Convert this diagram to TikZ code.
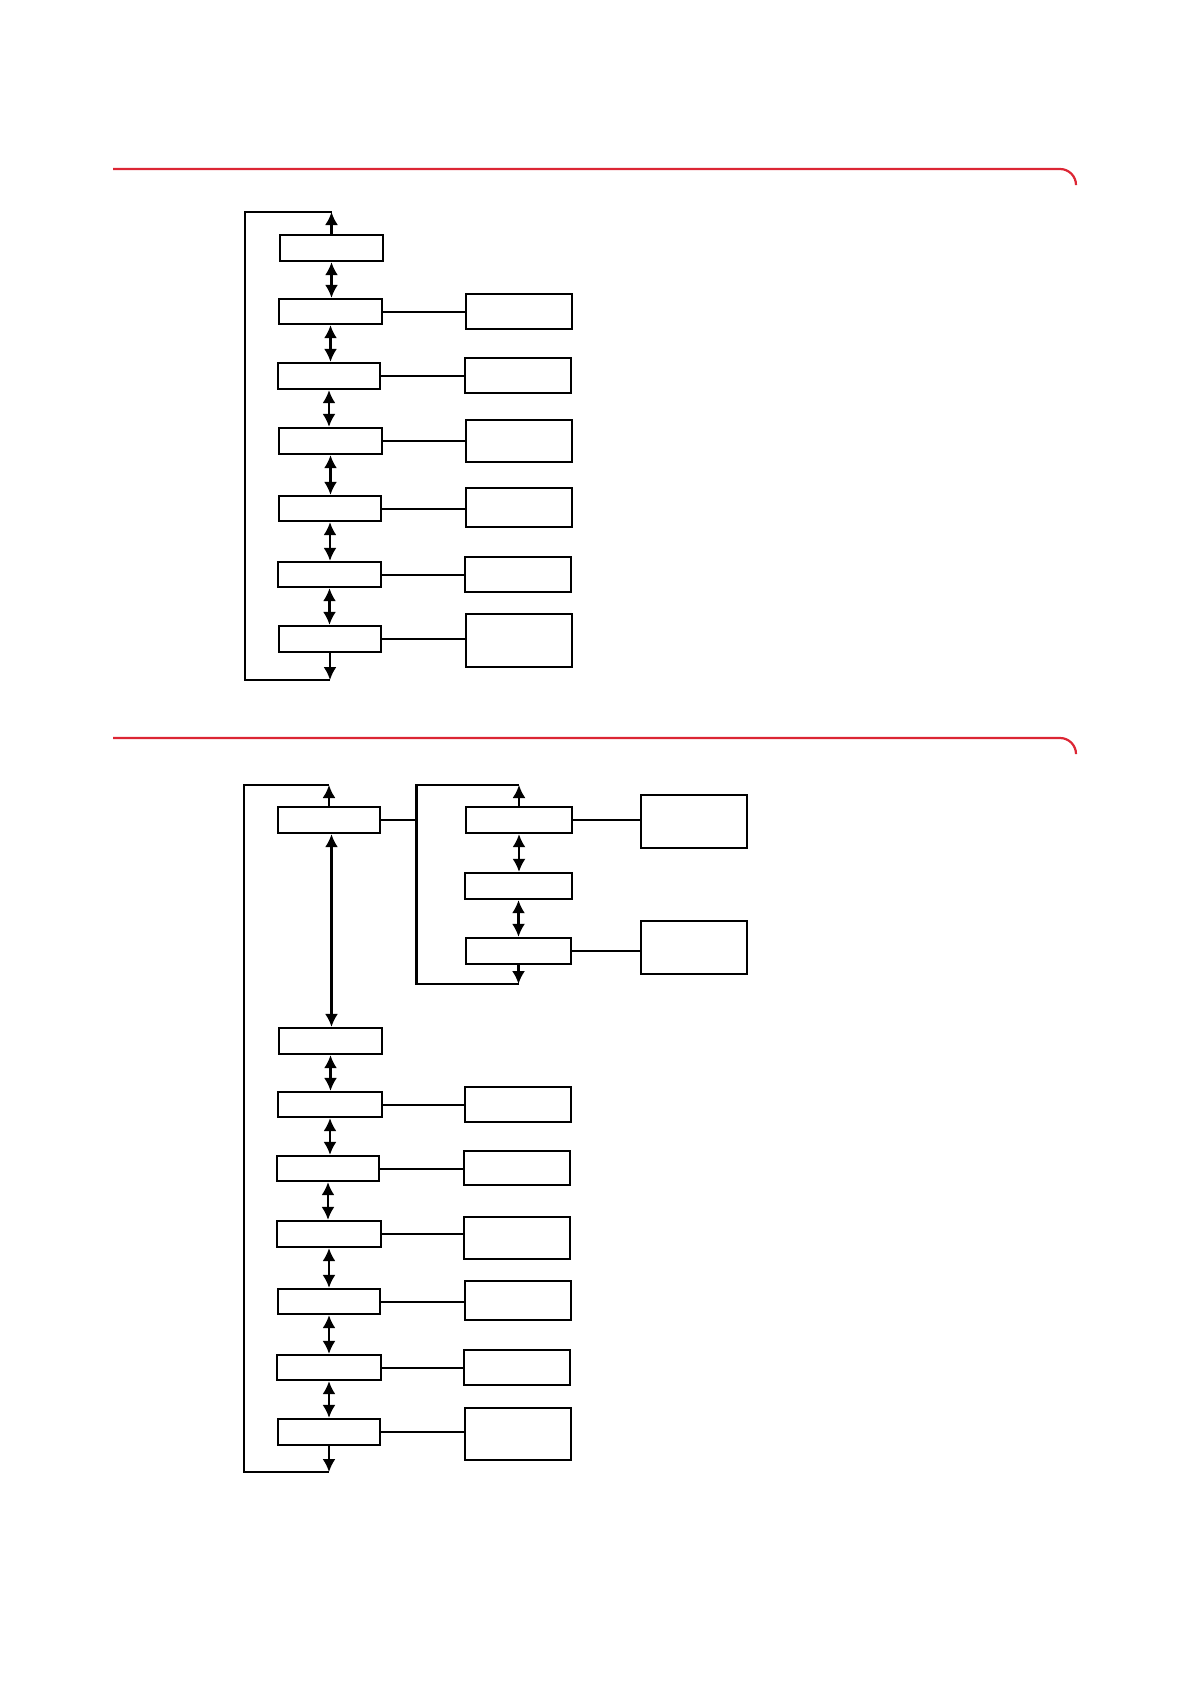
\documentclass[tikz,border=0pt]{standalone}
\usetikzlibrary{arrows.meta}
\definecolor{accent}{RGB}{220,38,52}
\tikzset{
 box/.style={draw, line width=2.3pt, inner sep=0pt, fill=white},
 link/.style={line width=2pt},
 tipshape/.style={},
 dbl/.style={line width=2.1pt, {Latex[length=13pt,width=13pt]}-{Latex[length=13pt,width=13pt]}},
 one/.style={line width=2.1pt, -{Latex[length=13pt,width=13pt]}},
 loopline/.style={line width=2.1pt},
 rulebar/.style={draw=accent, line width=2.2pt, rounded corners=16pt}
}
\newcommand\bx[5]{\node[box, minimum width={#4-#2}, minimum height={#5-#3}] (#1) at ({(#2+#4)/2},{(#3+#5)/2}) {};}
\begin{document}
\begin{tikzpicture}[x=1pt,y=-1pt]
\useasboundingbox (0,0) rectangle (1190,1684);
% red rules
\coordinate (ra1) at (113,169); \coordinate (ra2) at (1076,169); \coordinate (ra3) at (1076,184);
\draw[rulebar] (ra1) -- (ra2) -- (ra3);
\coordinate (rb1) at (113,738); \coordinate (rb2) at (1076,738); \coordinate (rb3) at (1076,753);
\draw[rulebar] (rb1) -- (rb2) -- (rb3);
% ---------- top diagram ----------
\bx{a1}{280}{235}{383}{261}
\bx{a2}{279}{299}{382}{324}
\bx{a3}{278}{363}{380}{389}
\bx{a4}{279}{428}{382}{454}
\bx{a5}{279}{496}{381}{521}
\bx{a6}{278}{562}{381}{587}
\bx{a7}{279}{626}{381}{652}
\bx{r2}{466}{294}{572}{329}
\bx{r3}{465}{358}{571}{393}
\bx{r4}{466}{420}{572}{462}
\bx{r5}{466}{488}{572}{527}
\bx{r6}{465}{557}{571}{592}
\bx{r7}{466}{614}{572}{667}
\coordinate (ty1) at (0,212); \coordinate (by1) at (0,680);
\coordinate (lx1) at (245,0);
\coordinate (lt1) at (a1.north |- ty1);
\coordinate (lb1) at (a7.south |- by1);
\coordinate (ltl1) at (lx1 |- ty1);
\coordinate (lbl1) at (lx1 |- by1);
\draw[loopline] (lt1) -- (ltl1) -- (lbl1) -- (lb1);
\draw[one] (a1.north) -- (lt1);
\draw[one] (a7.south) -- (lb1);
\foreach \u/\v in {a1/a2,a2/a3,a3/a4,a4/a5,a5/a6,a6/a7}
  \draw[dbl] (\u.south) -- (\u.south |- \v.north);
\foreach \i in {2,...,7}
  \draw[link] (a\i.east) -- (a\i.east -| r\i.west);
% ---------- bottom diagram ----------
\bx{b0}{278}{807}{380}{833}
\bx{c1}{466}{807}{572}{833}
\bx{c2}{465}{873}{572}{899}
\bx{c3}{466}{938}{571}{964}
\bx{d1}{641}{795}{747}{848}
\bx{d2}{641}{921}{747}{974}
\bx{e0}{279}{1028}{382}{1054}
\bx{e1}{278}{1092}{382}{1117}
\bx{e2}{277}{1156}{379}{1181}
\bx{e3}{277}{1221}{381}{1247}
\bx{e4}{278}{1289}{380}{1314}
\bx{e5}{277}{1355}{381}{1380}
\bx{e6}{278}{1419}{380}{1445}
\bx{f1}{465}{1087}{571}{1122}
\bx{f2}{464}{1151}{570}{1185}
\bx{f3}{464}{1217}{570}{1259}
\bx{f4}{465}{1281}{571}{1320}
\bx{f5}{464}{1350}{570}{1385}
\bx{f6}{465}{1408}{571}{1460}
% outer loop
\coordinate (ty2) at (0,785); \coordinate (by2) at (0,1472);
\coordinate (lx2) at (244,0);
\coordinate (lt2) at (b0.north |- ty2);
\coordinate (lb2) at (e6.south |- by2);
\coordinate (ltl2) at (lx2 |- ty2);
\coordinate (lbl2) at (lx2 |- by2);
\draw[loopline] (lt2) -- (ltl2) -- (lbl2) -- (lb2);
\draw[one] (b0.north) -- (lt2);
\draw[one] (e6.south) -- (lb2);
% inner loop
\coordinate (iy2) at (0,984);
\coordinate (ix) at (416.5,0);
\coordinate (it) at (c1.north |- ty2);
\coordinate (ib) at (c3.south |- iy2);
\coordinate (itl) at (ix |- ty2);
\coordinate (ibl) at (ix |- iy2);
\draw[loopline] (it) -- (itl) -- (ibl) -- (ib);
\draw[one] (c1.north) -- (it);
\draw[one] (c3.south) -- (ib);
\draw[link] (b0.east) -- (b0.east -| ix);
\draw[dbl] (c1.south) -- (c1.south |- c2.north);
\draw[dbl] (c2.south) -- (c2.south |- c3.north);
\draw[link] (c1.east) -- (c1.east -| d1.west);
\draw[link] (c3.east) -- (c3.east -| d2.west);
% main column
\draw[dbl] ([xshift=2.5pt]b0.south) -- ([xshift=2.5pt]b0.south |- e0.north);
\foreach \u/\v in {e0/e1,e1/e2,e2/e3,e3/e4,e4/e5,e5/e6}
  \draw[dbl] (\u.south) -- (\u.south |- \v.north);
\foreach \i in {1,...,6}
  \draw[link] (e\i.east) -- (e\i.east -| f\i.west);
\end{tikzpicture}
\end{document}
